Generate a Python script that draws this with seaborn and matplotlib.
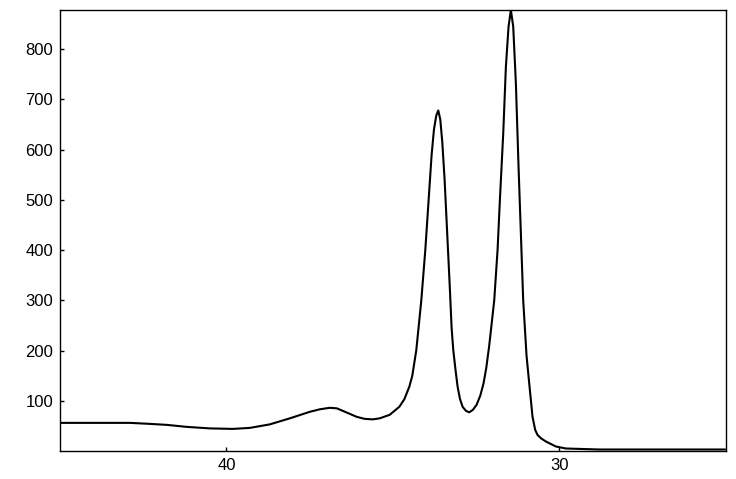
import matplotlib
matplotlib.use("Agg")
import matplotlib.pyplot as plt
import seaborn as sns
import pandas as pd

# Values (x axis reversed)
retention = [45.00, 43.80, 42.90, 42.30, 41.79, 41.19, 40.50, 39.81, 39.30, 38.70,
             38.10, 37.50, 37.20, 36.90, 36.69, 36.51, 36.30, 36.09, 35.85, 35.61,
             35.40, 35.10, 34.81, 34.66, 34.51, 34.42, 34.30, 34.15, 34.03, 33.93,
             33.84, 33.77, 33.70, 33.64, 33.58, 33.52, 33.45, 33.37, 33.29, 33.24,
             33.19, 33.12, 33.06, 32.99, 32.91, 32.81, 32.71, 32.60, 32.49, 32.38,
             32.28, 32.20, 32.11, 31.96, 31.86, 31.79, 31.69, 31.61, 31.53, 31.46,
             31.39, 31.31, 31.23, 31.16, 31.09, 30.99, 30.91, 30.81, 30.73, 30.66,
             30.55, 30.41, 30.11, 29.81, 28.81, 25.03]
signal = [56, 56, 56, 54, 52, 48, 45, 44, 46, 53,
          65, 78, 83, 86, 85, 80, 74, 68, 64, 63,
          65, 72, 88, 103, 128, 150, 201, 300, 400, 500,
          590, 640, 668, 678, 660, 615, 540, 430, 320, 245,
          201, 160, 128, 104, 88, 80, 77, 82, 92, 110,
          135, 165, 210, 300, 400, 500, 632, 765, 845, 878,
          845, 732, 566, 433, 300, 190, 135, 68, 42, 32,
          25, 19, 9, 5, 3, 3]
x_ticks = [40, 30]
y_ticks = [100, 200, 300, 400, 500, 600, 700, 800]

df = pd.DataFrame({"retention": retention, "signal": signal})

sns.set_style("white")
plt.rcParams["font.family"] = ["Liberation Sans", "DejaVu Sans"]

fig = plt.figure(figsize=(7.36, 4.79), dpi=100)
ax = fig.add_axes([60 / 736, 28 / 479, 666 / 736, 441 / 479])

sns.lineplot(data=df, x="retention", y="signal", ax=ax, color="black",
             linewidth=1.5, sort=False)

ax.set_xlim(45, 25)
ax.set_ylim(0, 878)
ax.set_xticks(x_ticks)
ax.set_yticks(y_ticks)
ax.set_xlabel("")
ax.set_ylabel("")
ax.tick_params(direction="in", length=3, width=1, labelsize=12,
               colors="black", pad=5, bottom=True, left=True)
for s in ax.spines.values():
    s.set_visible(True)
    s.set_color("black")
    s.set_linewidth(1)

fig.savefig("out.png", dpi=100, facecolor="white")
